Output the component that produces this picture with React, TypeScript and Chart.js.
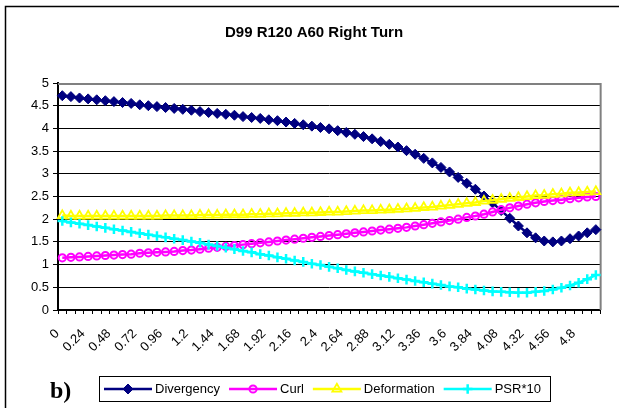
import React, { useEffect, useRef } from 'react';
import { Chart, registerables } from 'chart.js';
import { drawPoint } from 'chart.js/helpers';

Chart.register(...registerables);

const TITLE = 'D99 R120 A60 Right Turn';
const PANEL_LABEL = 'b)';

const categories = [
  '0', '0.08', '0.16', '0.24', '0.32', '0.4', '0.48', '0.56', '0.64', '0.72',
  '0.8', '0.88', '0.96', '1.04', '1.12', '1.2', '1.28', '1.36', '1.44', '1.52',
  '1.6', '1.68', '1.76', '1.84', '1.92', '2', '2.08', '2.16', '2.24', '2.32',
  '2.4', '2.48', '2.56', '2.64', '2.72', '2.8', '2.88', '2.96', '3.04', '3.12',
  '3.2', '3.28', '3.36', '3.44', '3.52', '3.6', '3.68', '3.76', '3.84', '3.92',
  '4', '4.08', '4.16', '4.24', '4.32', '4.4', '4.48', '4.56', '4.64', '4.72',
  '4.8', '4.88', '4.96',
];

const divergency = [
  4.72, 4.70, 4.67, 4.65, 4.63, 4.61, 4.59, 4.57, 4.55, 4.52,
  4.50, 4.48, 4.46, 4.44, 4.42, 4.40, 4.37, 4.35, 4.33, 4.31,
  4.29, 4.26, 4.24, 4.22, 4.19, 4.17, 4.14, 4.11, 4.08, 4.05,
  4.02, 3.99, 3.95, 3.91, 3.87, 3.82, 3.77, 3.71, 3.65, 3.59,
  3.51, 3.43, 3.34, 3.24, 3.14, 3.04, 2.92, 2.79, 2.66, 2.51,
  2.36, 2.19, 2.02, 1.85, 1.70, 1.59, 1.52, 1.50, 1.52, 1.57,
  1.63, 1.70, 1.77,
];

const curl = [
  1.15, 1.16, 1.17, 1.18, 1.19, 1.20, 1.21, 1.22, 1.23, 1.25,
  1.26, 1.27, 1.28, 1.29, 1.31, 1.32, 1.34, 1.36, 1.38, 1.40,
  1.42, 1.44, 1.46, 1.48, 1.50, 1.52, 1.54, 1.56, 1.58, 1.60,
  1.62, 1.64, 1.66, 1.68, 1.70, 1.72, 1.74, 1.76, 1.78, 1.80,
  1.82, 1.85, 1.88, 1.91, 1.94, 1.97, 2.00, 2.04, 2.07, 2.11,
  2.16, 2.21, 2.25, 2.29, 2.33, 2.36, 2.39, 2.41, 2.43, 2.45,
  2.47, 2.49, 2.50,
];

const deformation = [
  2.08, 2.07, 2.07, 2.07, 2.07, 2.07, 2.07, 2.07, 2.07, 2.07,
  2.07, 2.07, 2.08, 2.08, 2.08, 2.08, 2.09, 2.09, 2.09, 2.10,
  2.10, 2.10, 2.11, 2.11, 2.12, 2.12, 2.13, 2.13, 2.14, 2.14,
  2.15, 2.16, 2.16, 2.17, 2.18, 2.19, 2.19, 2.20, 2.21, 2.22,
  2.23, 2.24, 2.26, 2.27, 2.29, 2.31, 2.33, 2.35, 2.37, 2.40,
  2.42, 2.44, 2.46, 2.48, 2.50, 2.52, 2.53, 2.55, 2.56, 2.58,
  2.59, 2.60, 2.61,
];

const psr10 = [
  1.96, 1.93, 1.90, 1.87, 1.84, 1.81, 1.78, 1.75, 1.72, 1.69,
  1.66, 1.63, 1.60, 1.57, 1.54, 1.51, 1.48, 1.44, 1.41, 1.37,
  1.34, 1.30, 1.27, 1.23, 1.20, 1.16, 1.13, 1.09, 1.06, 1.02,
  0.99, 0.95, 0.92, 0.88, 0.85, 0.82, 0.79, 0.76, 0.73, 0.70,
  0.67, 0.64, 0.61, 0.58, 0.55, 0.52, 0.50, 0.47, 0.45, 0.43,
  0.41, 0.40, 0.39, 0.38, 0.38, 0.40, 0.42, 0.45, 0.49, 0.54,
  0.60, 0.68, 0.77,
];

const SANS = '"Liberation Sans", Arial, sans-serif';
const SERIF = '"Liberation Serif", "Times New Roman", serif';

// Frame, plot border, title, boxed legend and panel letter
const decorations = {
  id: 'decorations',
  beforeDraw(chart: any) {
    const { ctx, width, height } = chart;
    ctx.save();
    ctx.fillStyle = '#ffffff';
    ctx.fillRect(0, 0, width, height);
    ctx.restore();
  },
  beforeDatasetsDraw(chart: any) {
    const { ctx, chartArea: a } = chart;
    ctx.save();
    ctx.strokeStyle = '#808080';
    ctx.lineWidth = 2;
    ctx.beginPath();
    ctx.moveTo(a.left, a.top + 1);
    ctx.lineTo(a.right + 0.5, a.top + 1);
    ctx.lineTo(a.right + 0.5, a.bottom);
    ctx.stroke();
    ctx.restore();
  },
  afterDraw(chart: any) {
    const { ctx, width, height } = chart;
    ctx.save();

    // outer frame
    ctx.strokeStyle = '#000';
    ctx.lineWidth = 1.5;
    ctx.beginPath();
    ctx.moveTo(5.5, height);
    ctx.lineTo(5.5, 6.5);
    ctx.lineTo(width, 6.5);
    ctx.stroke();

    // title
    ctx.fillStyle = '#000';
    ctx.font = `bold 15px ${SANS}`;
    ctx.textAlign = 'center';
    ctx.textBaseline = 'middle';
    ctx.fillText(TITLE, 314, 33);

    // legend
    const ly = 389;
    const lineLen = 48;
    let x = 104;
    ctx.font = `13px ${SANS}`;
    ctx.textAlign = 'left';
    ctx.textBaseline = 'middle';
    chart.data.datasets.forEach((ds: any) => {
      ctx.strokeStyle = ds.borderColor;
      ctx.lineWidth = ds.borderWidth;
      ctx.beginPath();
      ctx.moveTo(x, ly);
      ctx.lineTo(x + lineLen, ly);
      ctx.stroke();
      ctx.fillStyle = ds.pointBackgroundColor;
      ctx.strokeStyle = ds.pointBorderColor;
      ctx.lineWidth = ds.pointBorderWidth;
      drawPoint(ctx, {
        pointStyle: ds.pointStyle,
        radius: ds.pointRadius,
        borderWidth: ds.pointBorderWidth,
        rotation: 0,
      } as any, x + lineLen / 2, ly);
      x += lineLen + 3;
      ctx.fillStyle = '#000';
      ctx.fillText(ds.label, x, ly + 0.5);
      x += ctx.measureText(ds.label).width + 9;
    });
    ctx.strokeStyle = '#000';
    ctx.lineWidth = 1;
    ctx.strokeRect(99.5, 376.5, Math.round(x - 99), 25);

    // panel letter
    ctx.fillStyle = '#000';
    ctx.font = `bold 24px ${SERIF}`;
    ctx.textAlign = 'left';
    ctx.textBaseline = 'alphabetic';
    ctx.fillText(PANEL_LABEL, 50, 398);

    ctx.restore();
  },
};

export default function App() {
  const canvasRef = useRef<HTMLCanvasElement | null>(null);

  useEffect(() => {
    document.body.style.margin = '0';
    const canvas = canvasRef.current;
    if (!canvas) return;

    const series = (
      label: string,
      data: number[],
      color: string,
      pointStyle: string,
      radius: number,
      pointBorderWidth: number,
      fill: string,
      lineWidth: number,
      order: number,
    ) => ({
      label,
      data,
      borderColor: color,
      borderWidth: lineWidth,
      pointStyle,
      pointRadius: radius,
      pointHoverRadius: radius,
      pointBorderWidth,
      pointBorderColor: color,
      pointBackgroundColor: fill,
      tension: 0,
      fill: false,
      order,
    });

    const chart = new Chart(canvas, {
      type: 'line',
      data: {
        labels: categories,
        datasets: [
          series('Divergency', divergency, '#000080', 'rectRot', 5, 1, '#000080', 2.5, 3),
          series('Curl', curl, '#ff00ff', 'circle', 3.6, 2, 'rgba(0,0,0,0)', 2.5, 2),
          series('Deformation', deformation, '#ffff00', 'triangle', 5.2, 1.8, 'rgba(0,0,0,0)', 2.5, 1),
          series('PSR*10', psr10, '#00ffff', 'cross', 4.8, 2.5, '#00ffff', 2.5, 0),
        ] as any,
      },
      options: {
        animation: false,
        responsive: false,
        maintainAspectRatio: false,
        events: [],
        layout: { padding: { top: 83, right: 16, bottom: 0, left: 0 } },
        plugins: {
          legend: { display: false },
          title: { display: false },
          tooltip: { enabled: false },
        },
        scales: {
          x: {
            type: 'category',
            offset: true,
            grid: {
              display: true,
              drawOnChartArea: false,
              drawTicks: true,
              tickLength: 4,
              offset: true,
              color: '#000',
              lineWidth: 1,
            },
            border: { display: true, color: '#000', width: 2 },
            ticks: {
              autoSkip: false,
              maxRotation: 45,
              minRotation: 45,
              padding: 12,
              labelOffset: -5,
              color: '#000',
              font: { family: SANS, size: 13 },
              callback: (_v: any, i: number) => (i % 3 === 0 ? categories[i] : ''),
            },
            afterFit: (s: any) => {
              s.height = 98;
            },
          },
          y: {
            min: 0,
            max: 5,
            grid: { color: '#000', lineWidth: 1, tickLength: 5, drawTicks: true },
            border: { display: true, color: '#000', width: 2 },
            ticks: {
              stepSize: 0.5,
              padding: 4,
              color: '#000',
              font: { family: SANS, size: 13 },
              callback: (v: any) => String(Number(v)),
            },
            afterFit: (s: any) => {
              s.width = 58;
            },
          },
        },
      } as any,
      plugins: [decorations],
    });

    return () => chart.destroy();
  }, []);

  return (
    <div style={{ width: 619, height: 408 }}>
      <canvas ref={canvasRef} width={619} height={408} style={{ display: 'block' }} />
    </div>
  );
}
